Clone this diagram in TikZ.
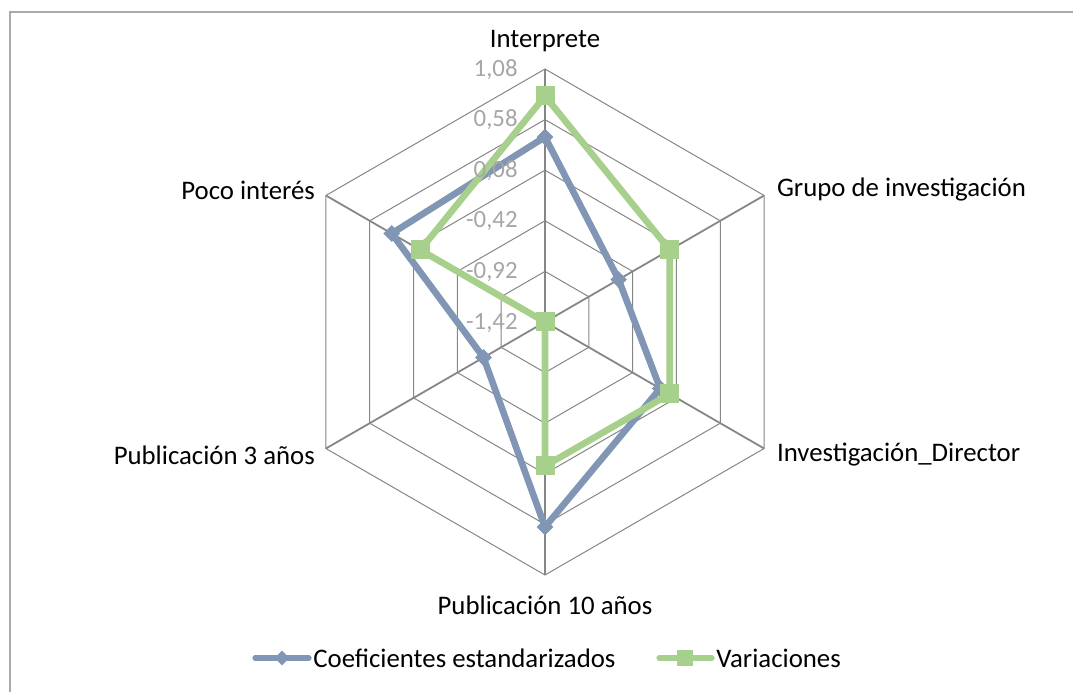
\documentclass[tikz,border=0pt]{standalone}
\usepackage{fontspec}
\setmainfont{Carlito}
\usetikzlibrary{shapes.geometric}
\definecolor{coefblue}{RGB}{128,150,180}
\definecolor{varigreen}{RGB}{168,208,141}
\definecolor{ticklabel}{RGB}{166,166,166}
\definecolor{gridgray}{RGB}{134,134,134}
\definecolor{framegray}{RGB}{170,170,170}

\begin{document}
\begin{tikzpicture}[x=0.5pt,y=0.5pt,
        font=\fontsize{13.4}{15}\selectfont,
        gridline/.style={color=gridgray, line width=0.5pt},
        spoke/.style={color=gridgray, line width=0.9pt},
        coefline/.style={color=coefblue, line width=3.3pt, line join=round},
        variline/.style={color=varigreen, line width=3.3pt, line join=round},
        diamondmark/.style={diamond, fill=coefblue, inner sep=0pt, minimum size=8.5pt},
        squaremark/.style={rectangle, fill=varigreen, inner sep=0pt, minimum size=9.5pt},
        ticktext/.style={anchor=east, color=ticklabel, inner sep=1pt,
            font=\fontsize{12.4}{14}\selectfont}]
    \useasboundingbox (0,0) rectangle (1073,692);
    \draw[framegray, line width=1pt] (9.5,-20) -- (9.5,680) -- (1090,680);

    \begin{scope}[shift={(545,370)}]
        % rings and spokes
        \foreach \r in {1,...,5}
            \draw[gridline] (90:{\r*50.6}) -- (30:{\r*50.6}) -- (-30:{\r*50.6})
                -- (-90:{\r*50.6}) -- (-150:{\r*50.6}) -- (150:{\r*50.6}) -- cycle;
        \foreach \a in {90,30,-30,-90,-150,150}
            \draw[spoke] (0,0) -- (\a:253);

        % Coeficientes estandarizados
        \draw[coefline] (90:185) -- (30:85) -- (-30:133) -- (-90:205)
            -- (-150:71) -- (150:177) -- cycle;
        \foreach \a/\r [count=\i] in {90/185,30/85,-30/133,-90/205,-150/71,150/177}
            \node[diamondmark] (coef\i) at (\a:\r) {};

        % Variaciones
        \draw[variline] (90:226) -- (30:144) -- (-30:144) -- (-90:144)
            -- (0,0) -- (150:144) -- cycle;
        \foreach \a/\r [count=\i] in {90/226,30/144,-30/144,-90/144,-150/0,150/144}
            \node[squaremark] (vari\i) at (\a:\r) {};
    \end{scope}

    % axis values
    \node[ticktext] (t1) at (520,622) {1,08};
    \node[ticktext] (t2) at (520,572) {0,58};
    \node[ticktext] (t3) at (520,521) {0,08};
    \node[ticktext] (t4) at (520,471) {-0,42};
    \node[ticktext] (t5) at (520,420) {-0,92};
    \node[ticktext] (t6) at (520,369) {-1,42};

    % categories
    \node (interprete) at (545,651) {Interprete};
    \node[anchor=west] (grupo) at (770,502) {Grupo de investigación};
    \node[anchor=west] (director) at (770,237) {Investigación\_Director};
    \node (pub10) at (545,87) {Publicación 10 años};
    \node[anchor=east] (pub3) at (322,237) {Publicación 3 años};
    \node[anchor=east] (poco) at (322,502) {Poco interés};

    % legend
    \draw[coefline, line width=2.6pt, line cap=round] (255,34) -- (309,34);
    \node[diamondmark, minimum size=7.5pt] (legcoef) at (282,34) {};
    \node[anchor=west, inner sep=1pt] (legcoeftext) at (311,34) {Coeficientes estandarizados};
    \draw[variline, line width=2.6pt, line cap=round] (659,34) -- (712,34);
    \node[squaremark, minimum size=8pt] (legvari) at (685,34) {};
    \node[anchor=west, inner sep=1pt] (legvaritext) at (714,34) {Variaciones};
\end{tikzpicture}
\end{document}
